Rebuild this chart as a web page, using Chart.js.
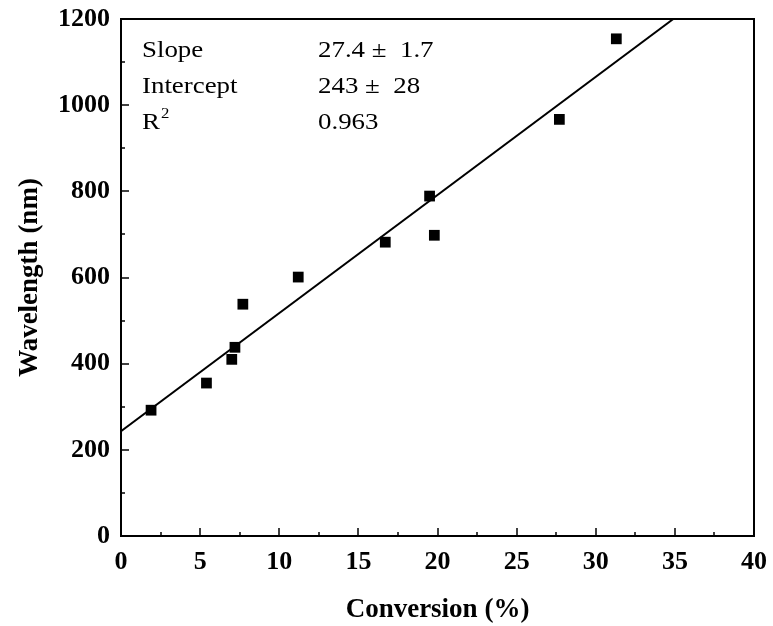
<!DOCTYPE html>
<html>
<head>
<meta charset="utf-8">
<script src="https://cdn.jsdelivr.net/npm/chart.js@4"></script>
<style>
  html, body { margin: 0; padding: 0; background: #fff; }
  #wrap { width: 773px; height: 626px; }
</style>
</head>
<body>
<div id="wrap"><canvas id="chart"></canvas></div>
<script>
const conversion = [1.9, 5.4, 7.0, 7.2, 7.7, 11.2, 16.7, 19.5, 19.8, 27.7, 31.3];
const wavelength = [292, 355, 410, 438, 538, 601, 682, 789, 698, 967, 1154];
const fitX = [0, 34.9];
const fitY = [243, 1200];
const fitLabels = ['Slope', 'Intercept', 'R'];
const fitValues = ['27.4 \u00b1  1.7', '243 \u00b1  28', '0.963'];

const serif = 'Liberation Serif';

// ticks point into the plot, plus the closing top/right frame
const insideTicks = {
  id: 'insideTicks',
  afterDatasetsDraw(chart) {
    const { ctx, chartArea, scales } = chart;
    const x = scales.x;
    const y = scales.y;
    ctx.save();
    ctx.strokeStyle = '#000';
    ctx.lineWidth = 2;
    ctx.beginPath();
    ctx.moveTo(chartArea.left, chartArea.top);
    ctx.lineTo(chartArea.right, chartArea.top);
    ctx.lineTo(chartArea.right, chartArea.bottom);
    ctx.stroke();
    ctx.lineWidth = 1.5;
    for (let v = x.min; v <= x.max; v += 2.5) {
      const px = Math.round(x.getPixelForValue(v));
      const len = v % 5 === 0 ? 8 : 4;
      ctx.beginPath();
      ctx.moveTo(px, chartArea.bottom);
      ctx.lineTo(px, chartArea.bottom - len);
      ctx.stroke();
    }
    for (let v = y.min; v <= y.max; v += 100) {
      const py = Math.round(y.getPixelForValue(v));
      const len = v % 200 === 0 ? 8 : 4;
      ctx.beginPath();
      ctx.moveTo(chartArea.left, py);
      ctx.lineTo(chartArea.left + len, py);
      ctx.stroke();
    }
    ctx.restore();
  }
};

const fitText = {
  id: 'fitText',
  afterDraw(chart) {
    const { ctx, chartArea } = chart;
    const stretch = 1.12;
    const font = '24px "' + serif + '"';
    ctx.save();
    ctx.fillStyle = '#000';
    ctx.textBaseline = 'alphabetic';
    ctx.scale(stretch, 1);
    const x1 = (chartArea.left + 21) / stretch;
    const x2 = (chartArea.left + 197) / stretch;
    fitLabels.forEach((lab, i) => {
      const by = chartArea.top + 38 + i * 36;
      ctx.font = font;
      ctx.fillText(lab, x1, by);
      if (lab === 'R') {
        const w = ctx.measureText(lab).width;
        ctx.font = '15px "' + serif + '"';
        ctx.fillText('2', x1 + w + 1, by - 11);
        ctx.font = font;
      }
      ctx.fillText(fitValues[i], x2, by);
    });
    ctx.restore();
  }
};

new Chart(document.getElementById('chart'), {
  type: 'scatter',
  data: {
    datasets: [
      {
        label: 'data',
        data: conversion.map((c, i) => ({ x: c, y: wavelength[i] })),
        pointStyle: 'rect',
        pointRadius: 7.6,
        backgroundColor: '#000',
        borderColor: '#000',
        borderWidth: 0
      },
      {
        label: 'fit',
        data: fitX.map((c, i) => ({ x: c, y: fitY[i] })),
        showLine: true,
        pointRadius: 0,
        borderColor: '#000',
        borderWidth: 2
      }
    ]
  },
  options: {
    responsive: true,
    maintainAspectRatio: false,
    animation: false,
    layout: { padding: { top: 19, right: 19, left: 0, bottom: 0 } },
    plugins: { legend: { display: false }, tooltip: { enabled: false } },
    scales: {
      x: {
        type: 'linear',
        min: 0,
        max: 40,
        afterFit(scale) {
          scale.height = 90;
          scale.paddingLeft = 0;
          scale.paddingRight = 0;
        },
        grid: { display: false, drawTicks: false },
        border: { display: true, color: '#000', width: 2 },
        ticks: {
          stepSize: 5,
          color: '#000',
          padding: 11,
          font: { family: serif, size: 26, weight: 'bold' },
          callback: (v) => String(v)
        },
        title: {
          display: true,
          text: 'Conversion (%)',
          color: '#000',
          padding: { top: 0, bottom: 0 },
          font: { family: serif, size: 27, weight: 'bold' }
        }
      },
      y: {
        type: 'linear',
        min: 0,
        max: 1200,
        afterFit(scale) {
          scale.width = 121;
          scale.paddingTop = 0;
          scale.paddingBottom = 0;
        },
        grid: { display: false, drawTicks: false },
        border: { display: true, color: '#000', width: 2 },
        ticks: {
          stepSize: 200,
          color: '#000',
          padding: 11,
          font: { family: serif, size: 26, weight: 'bold' },
          callback: (v) => String(v)
        },
        title: {
          display: true,
          text: 'Wavelength (nm)',
          color: '#000',
          padding: { top: 14, bottom: 0 },
          font: { family: serif, size: 27, weight: 'bold' }
        }
      }
    }
  },
  plugins: [insideTicks, fitText]
});
</script>
</body>
</html>
